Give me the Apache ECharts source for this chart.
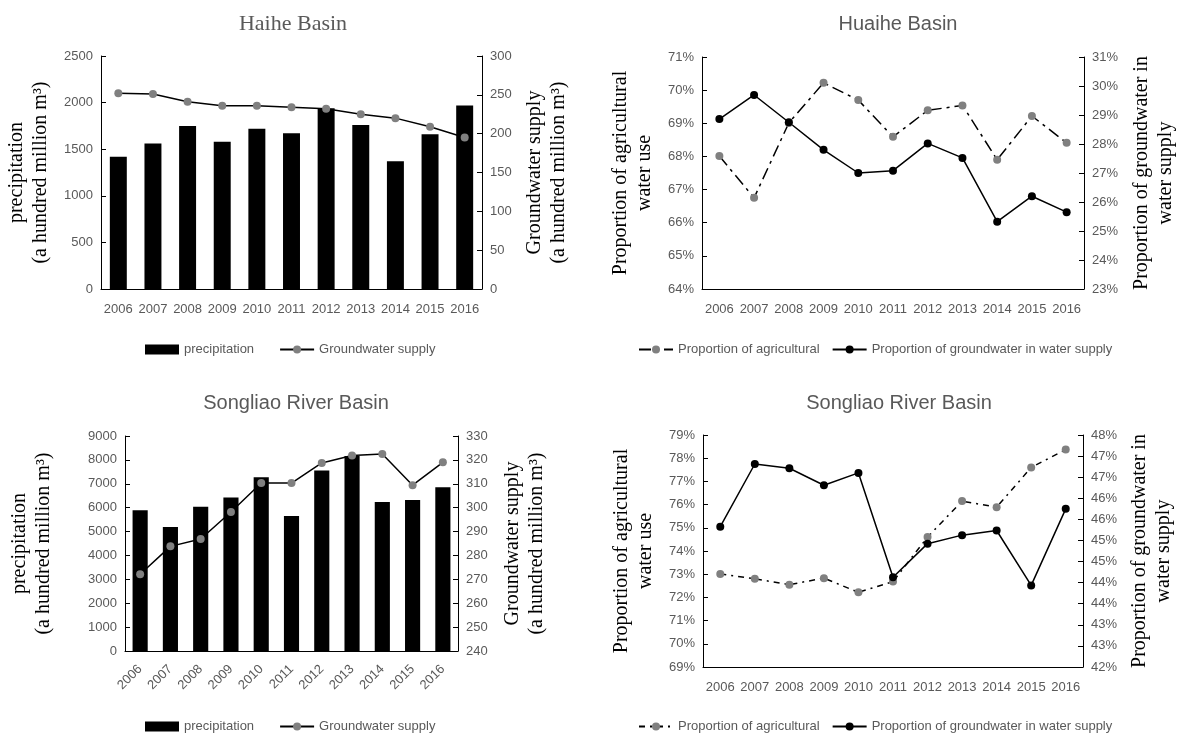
<!DOCTYPE html>
<html>
<head>
<meta charset="utf-8">
<script src="https://cdn.jsdelivr.net/npm/echarts@6/dist/echarts.min.js"></script>
<style>
  html, body { margin: 0; padding: 0; background: #fff; }
  #wrap { position: relative; width: 1179px; height: 733px; }
  .panel { position: absolute; }
</style>
</head>
<body>
<div id="wrap">
  <div class="panel" id="p1" style="left:0;top:0;width:590px;height:366px"></div>
  <div class="panel" id="p2" style="left:590px;top:0;width:589px;height:366px"></div>
  <div class="panel" id="p3" style="left:0;top:366px;width:590px;height:367px"></div>
  <div class="panel" id="p4" style="left:590px;top:366px;width:589px;height:367px"></div>
</div>
<script>
// Years shared by all four panels
const years = ['2006', '2007', '2008', '2009', '2010', '2011', '2012', '2013', '2014', '2015', '2016'];

// Haihe Basin (a hundred million m³)
const haihePrecip = [1420, 1560, 1750, 1580, 1720, 1670, 1940, 1760, 1370, 1660, 1970];
const haiheGroundwater = [252, 251, 241, 236, 236, 234, 232, 225, 220, 209, 195];

// Huaihe Basin (%)
const huaiheAgri = [68.01, 66.75, 69.01, 70.22, 69.70, 68.59, 69.39, 69.54, 67.90, 69.22, 68.41];
const huaiheGwShare = [28.86, 29.69, 28.75, 27.80, 27.00, 27.08, 28.02, 27.52, 25.32, 26.20, 25.65];

// Songliao River Basin (a hundred million m³)
const songliaoPrecip = [5890, 5190, 6040, 6430, 7270, 5650, 7560, 8160, 6240, 6320, 6850];
const songliaoGroundwater = [272.1, 283.8, 286.9, 298.2, 310.3, 310.3, 318.7, 321.8, 322.5, 309.4, 319.0];

// Songliao River Basin (%)
const songliaoAgri = [73.01, 72.80, 72.55, 72.83, 72.22, 72.68, 74.60, 76.15, 75.89, 77.60, 78.37];
const songliaoGwShare = [45.63, 47.25, 47.14, 46.70, 47.02, 44.32, 45.19, 45.41, 45.53, 44.11, 46.09];

// Series / legend names
const NAME_PRECIP = 'precipitation';
const NAME_GW = 'Groundwater supply';
const NAME_AGRI = 'Proportion of agricultural';
const NAME_GWSHARE = 'Proportion of groundwater in water supply';

// Axis titles
const VOL_LEFT = 'precipitation\n(a hundred million m³)';
const VOL_RIGHT = 'Groundwater supply\n(a hundred million m³)';
const PCT_LEFT = 'Proportion of agricultural\nwater use';
const PCT_RIGHT = 'Proportion of groundwater in\nwater supply';

const SANS = "'Liberation Sans', Arial, sans-serif";
const SERIF = "'Liberation Serif', 'Times New Roman', serif";
const GREY_TEXT = '#595959';
const AXIS_COL = '#000000';
const MARK_GREY = '#808080';

const plain = v => String(v);
const pct = v => Math.round(v) + '%';

function valueAxis(o) {
  return {
    type: 'value',
    position: o.position,
    min: o.min, max: o.max, interval: o.interval,
    name: o.name,
    nameLocation: 'middle',
    nameRotate: 90,
    nameGap: o.nameGap,
    nameTextStyle: { fontFamily: SERIF, fontSize: 20, color: '#000', lineHeight: 24 },
    axisLine: { show: true, lineStyle: { color: AXIS_COL, width: 1 } },
    axisTick: { show: true, inside: true, length: 5, lineStyle: { color: AXIS_COL } },
    splitLine: { show: false },
    axisLabel: {
      color: GREY_TEXT, fontFamily: SANS, fontSize: 13, margin: 8,
      formatter: o.formatter || plain
    }
  };
}

function categoryAxis(rotate, margin) {
  return {
    type: 'category',
    data: years,
    axisLine: { show: true, lineStyle: { color: AXIS_COL, width: 1 } },
    axisTick: { show: false },
    axisLabel: { color: GREY_TEXT, fontFamily: SANS, fontSize: 13, rotate: rotate, margin: margin, interval: 0 }
  };
}

function gridAt(left, top, width, height) {
  return { left: left, top: top, width: width, height: height, containLabel: false, outerBoundsMode: 'none' };
}

function titleOf(text, left, top, serif) {
  return {
    text: text, left: left, top: top, textAlign: 'center',
    textStyle: { fontFamily: serif ? SERIF : SANS, fontSize: serif ? 22 : 20, fontWeight: 'normal', color: GREY_TEXT }
  };
}

function legendOf(names, left, top, gap) {
  return {
    data: names, left: left, top: top, itemGap: gap, itemWidth: 34, itemHeight: 10,
    textStyle: { color: GREY_TEXT, fontFamily: SANS, fontSize: 13 }
  };
}

function lineSeries(name, data, yIdx, dash, markColor) {
  return {
    type: 'line', name: name, data: data, yAxisIndex: yIdx,
    symbol: 'circle', symbolSize: 8, showAllSymbol: true,
    lineStyle: { color: '#000', width: 1.5, type: dash || 'solid' },
    itemStyle: { color: markColor },
    z: 3, animation: false
  };
}

function barSeries(name, data, width) {
  return {
    type: 'bar', name: name, data: data, yAxisIndex: 0, barWidth: width,
    itemStyle: { color: '#000' }, animation: false
  };
}

// Haihe Basin: precipitation bars with groundwater supply line
const opt1 = {
  animation: false,
  title: titleOf('Haihe Basin', 288, 8, true),
  legend: legendOf([{ name: NAME_PRECIP, icon: 'rect' }, NAME_GW], 140, 338, 25),
  grid: gridAt(101, 56, 381, 233),
  xAxis: categoryAxis(0, 14),
  yAxis: [
    valueAxis({ position: 'left', min: 0, max: 2500, interval: 500, name: VOL_LEFT, nameGap: 48 }),
    valueAxis({ position: 'right', min: 0, max: 300, interval: 50, name: VOL_RIGHT, nameGap: 40 })
  ],
  series: [
    barSeries(NAME_PRECIP, haihePrecip, '49%'),
    lineSeries(NAME_GW, haiheGroundwater, 1, 'solid', MARK_GREY)
  ]
};

// Huaihe Basin: agricultural share vs groundwater share
const opt2 = {
  animation: false,
  title: titleOf('Huaihe Basin', 303, 9, false),
  legend: legendOf([NAME_AGRI, NAME_GWSHARE], 43, 338, 12),
  grid: gridAt(112, 57, 382, 232),
  xAxis: categoryAxis(0, 14),
  yAxis: [
    valueAxis({ position: 'left', min: 64, max: 71, interval: 1, name: PCT_LEFT, nameGap: 42, formatter: pct }),
    valueAxis({ position: 'right', min: 23, max: 31, interval: 1, name: PCT_RIGHT, nameGap: 46, formatter: pct })
  ],
  series: [
    lineSeries(NAME_AGRI, huaiheAgri, 0, [12, 5, 3, 5], MARK_GREY),
    lineSeries(NAME_GWSHARE, huaiheGwShare, 1, 'solid', '#000')
  ]
};

// Songliao River Basin: precipitation bars with groundwater supply line
const opt3 = {
  animation: false,
  title: titleOf('Songliao River Basin', 291, 22, false),
  legend: legendOf([{ name: NAME_PRECIP, icon: 'rect' }, NAME_GW], 140, 349, 25),
  grid: gridAt(125, 70, 333, 215),
  xAxis: categoryAxis(45, 16),
  yAxis: [
    valueAxis({ position: 'left', min: 0, max: 9000, interval: 1000, name: VOL_LEFT, nameGap: 69 }),
    valueAxis({ position: 'right', min: 240, max: 330, interval: 10, name: VOL_RIGHT, nameGap: 43 })
  ],
  series: [
    barSeries(NAME_PRECIP, songliaoPrecip, '50%'),
    lineSeries(NAME_GW, songliaoGroundwater, 1, 'solid', MARK_GREY)
  ]
};

// Songliao River Basin: agricultural share vs groundwater share
const opt4 = {
  animation: false,
  title: titleOf('Songliao River Basin', 304, 22, false),
  legend: legendOf([NAME_AGRI, NAME_GWSHARE], 43, 349, 12),
  grid: gridAt(113, 69, 380, 232),
  xAxis: categoryAxis(0, 14),
  yAxis: [
    valueAxis({ position: 'left', min: 69, max: 79, interval: 1, name: PCT_LEFT, nameGap: 43, formatter: pct }),
    // 42 % .. 48 % split into eleven equal steps
    valueAxis({ position: 'right', min: 42, max: 48, interval: 6 / 11, name: PCT_RIGHT, nameGap: 45, formatter: pct })
  ],
  series: [
    lineSeries(NAME_AGRI, songliaoAgri, 0, [6, 5, 2, 5], MARK_GREY),
    lineSeries(NAME_GWSHARE, songliaoGwShare, 1, 'solid', '#000')
  ]
};

[['p1', opt1], ['p2', opt2], ['p3', opt3], ['p4', opt4]].forEach(([id, opt]) => {
  const chart = echarts.init(document.getElementById(id), null, { renderer: 'canvas' });
  chart.setOption(opt);
});
</script>
</body>
</html>
